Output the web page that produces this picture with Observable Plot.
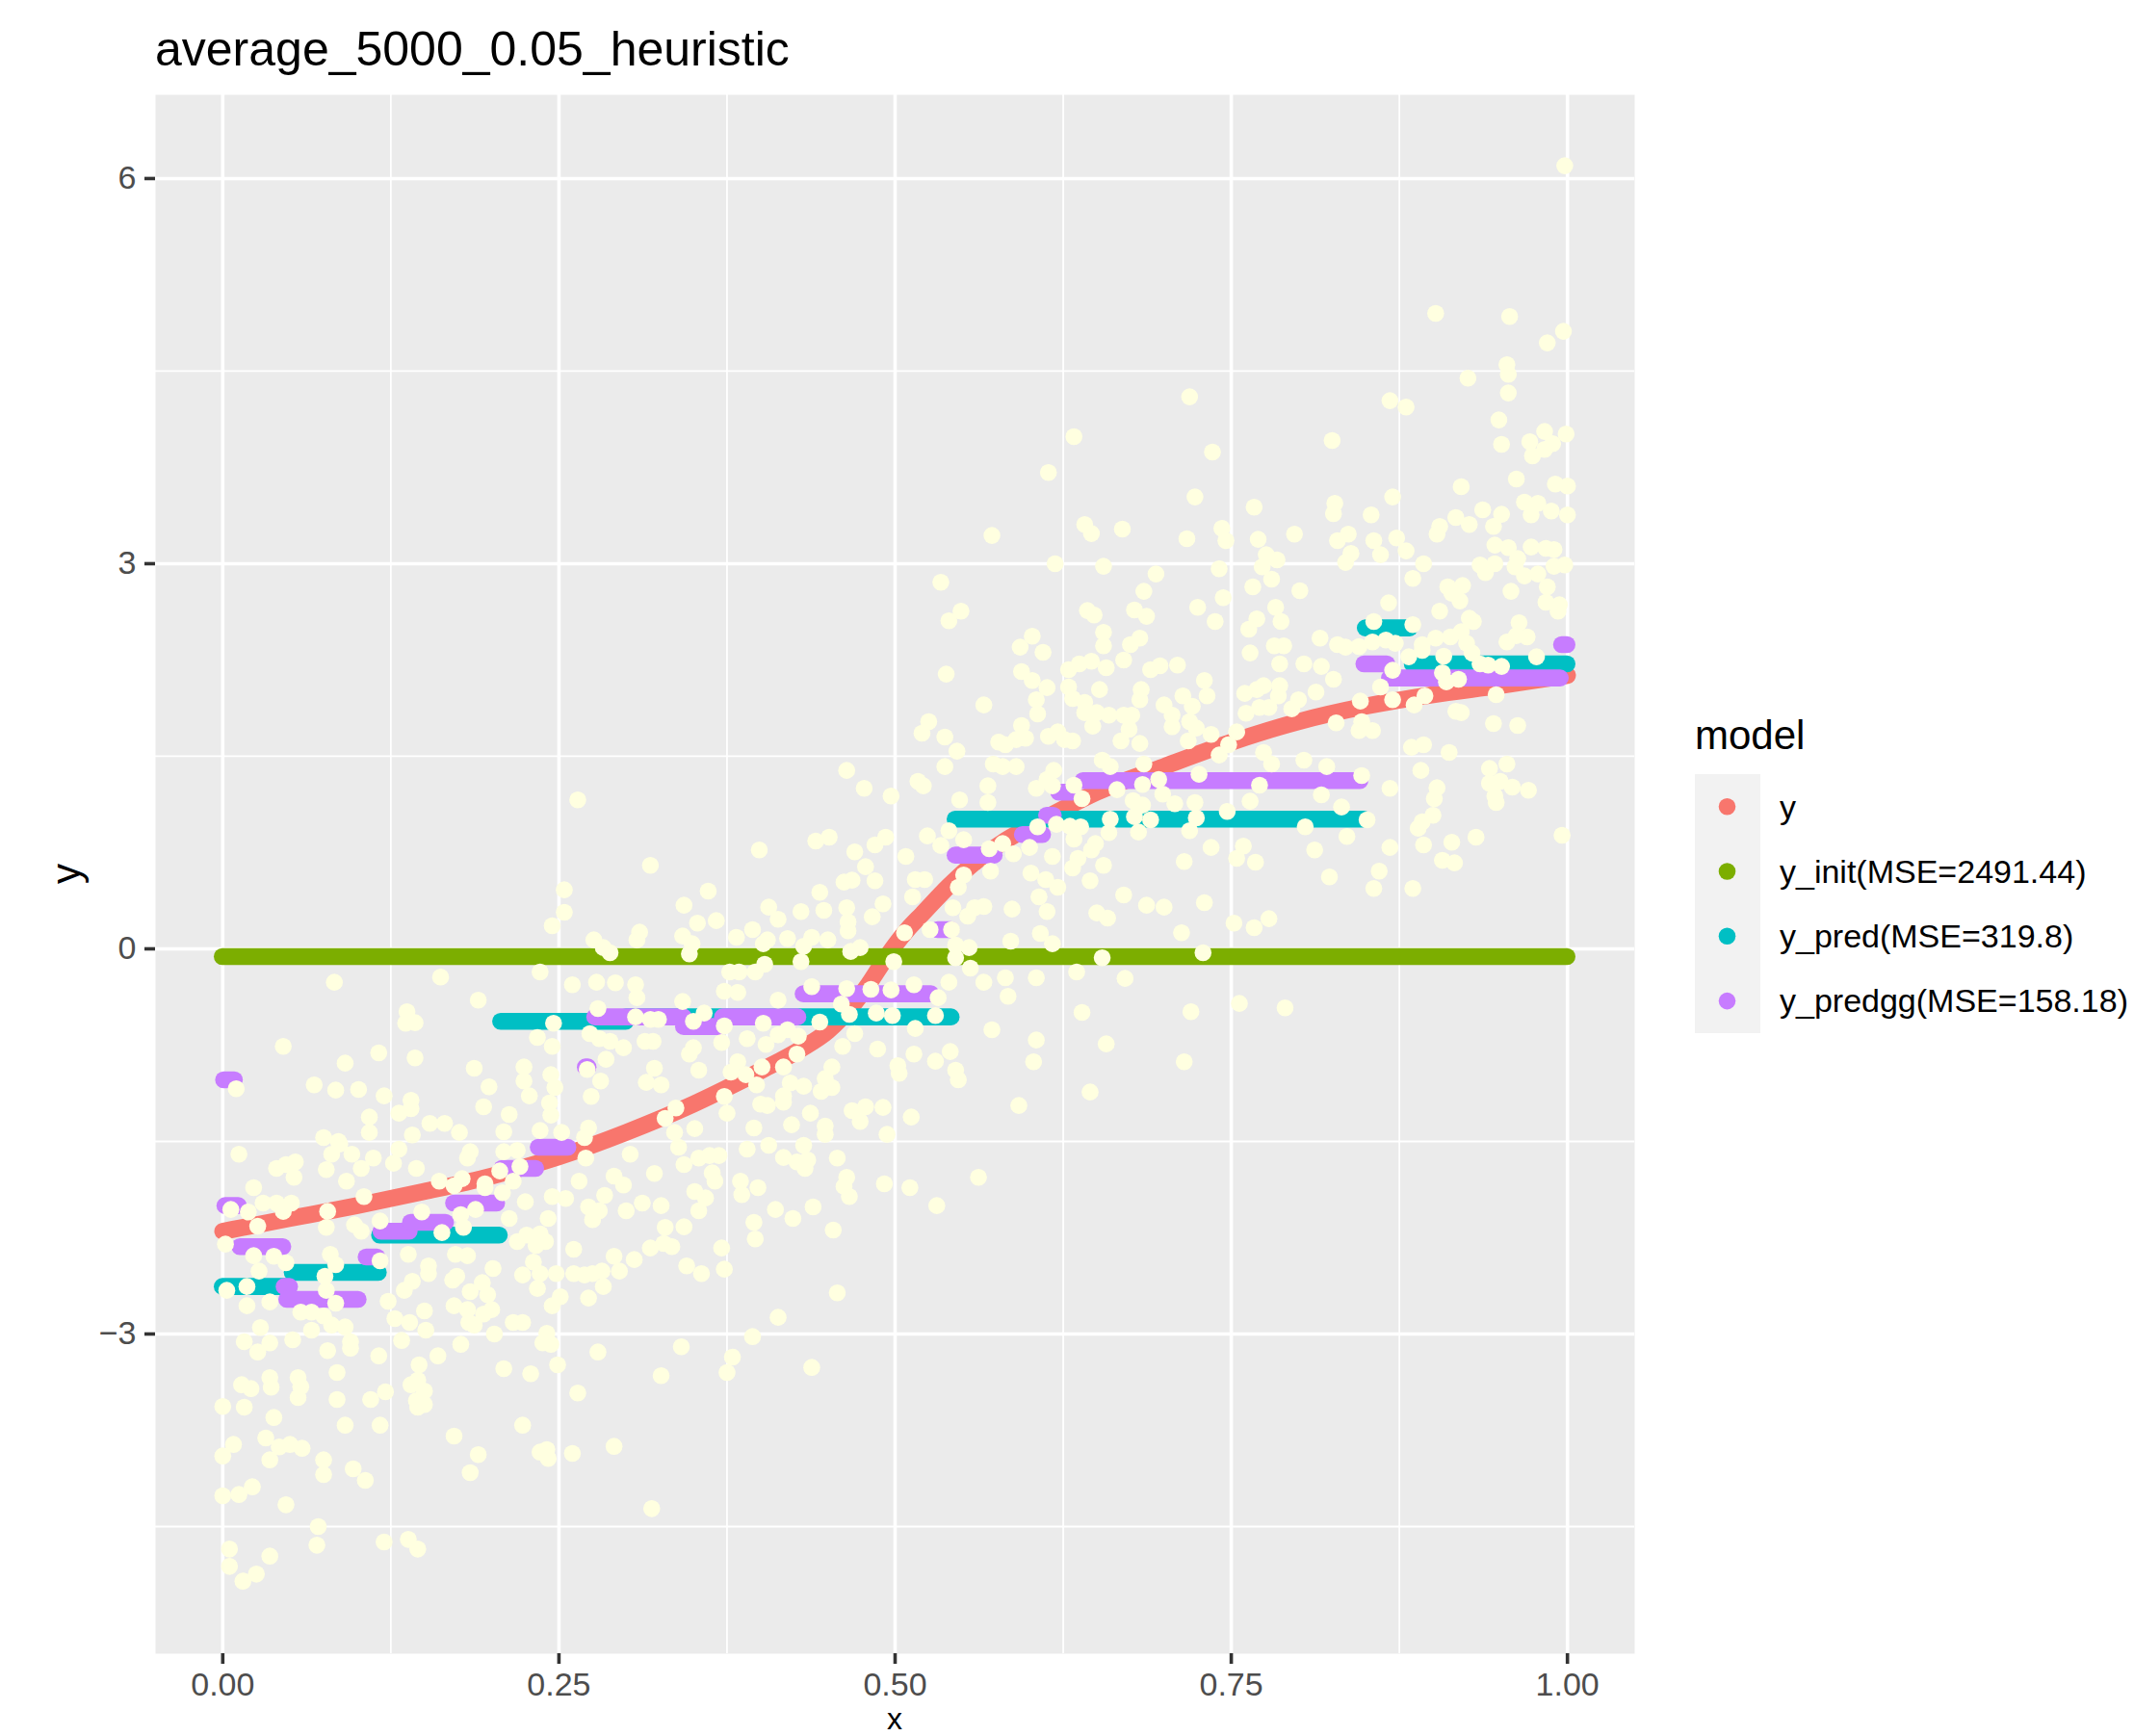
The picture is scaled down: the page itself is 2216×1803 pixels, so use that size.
<!DOCTYPE html>
<html>
<head>
<meta charset="utf-8">
<script src="https://cdn.jsdelivr.net/npm/d3@7"></script>
<script src="https://cdn.jsdelivr.net/npm/@observablehq/plot@0.6"></script>
<style>
  html, body { margin: 0; padding: 0; background: #ffffff; overflow: hidden; }
  #chart { position: absolute; left: 0; top: 0; }
</style>
</head>
<body>
<div id="chart"></div>
<script>
// ---------------- data ----------------
const TITLE = "average_5000_0.05_heuristic";
const legendTitle = "model";
const modelLabels = ["y", "y_init(MSE=2491.44)", "y_pred(MSE=319.8)", "y_predgg(MSE=158.18)"];
const modelColors = ["#F8766D", "#7CAE00", "#00BFC4", "#C77CFF"];
const obsColor = "#FFFFE0";

const xTicks = [0, 0.25, 0.5, 0.75, 1];
const xTickLabels = ["0.00", "0.25", "0.50", "0.75", "1.00"];
const xMinor = [0.125, 0.375, 0.625, 0.875];
const yTicks = [-3, 0, 3, 6];
const yTickLabels = ["\u22123", "0", "3", "6"];
const yMinor = [-4.5, -1.5, 1.5, 4.5];

// true curve "y"
const trueX = [0.00,0.05,0.10,0.15,0.20,0.25,0.30,0.35,0.40,0.43,0.45,0.46,0.47,0.48,0.49,0.50,0.51,0.52,0.54,0.56,0.58,0.60,0.625,0.65,0.70,0.75,0.80,0.85,0.90,0.95,1.00];
const trueY = [-2.20,-2.10,-2.00,-1.89,-1.77,-1.62,-1.43,-1.21,-0.95,-0.78,-0.64,-0.54,-0.42,-0.28,-0.12,0.03,0.16,0.27,0.49,0.68,0.83,0.95,1.09,1.22,1.42,1.61,1.77,1.89,1.98,2.05,2.13];

// step models: [x start, x end, value]
const initSegments = [[0.000, 1.000, -0.06]];
const predSegments = [
  [0.000, 0.048, -2.63], [0.052, 0.116, -2.52], [0.117, 0.206, -2.23],
  [0.207, 0.300, -0.565], [0.300, 0.542, -0.53], [0.545, 0.849, 1.01],
  [0.850, 0.883, 2.50], [0.885, 1.000, 2.22]
];
const predggSegments = [
  [0.001, 0.009, -1.02], [0.002, 0.012, -2.00], [0.013, 0.045, -2.32],
  [0.046, 0.050, -2.63], [0.048, 0.101, -2.73], [0.107, 0.115, -2.40],
  [0.118, 0.139, -2.20], [0.140, 0.166, -2.13], [0.172, 0.204, -1.98],
  [0.208, 0.233, -1.71], [0.235, 0.257, -1.545], [0.270, 0.272, -0.92],
  [0.277, 0.343, -0.53], [0.343, 0.370, -0.605], [0.372, 0.428, -0.53],
  [0.432, 0.527, -0.35], [0.532, 0.542, 0.15], [0.545, 0.574, 0.73],
  [0.595, 0.610, 0.89], [0.613, 0.618, 1.04], [0.622, 0.632, 1.22],
  [0.640, 0.846, 1.31], [0.849, 0.866, 2.22], [0.868, 0.995, 2.11],
  [0.996, 1.000, 2.37]
];

// observed noisy points [x, y]
const observed = [
[0.264,1.16],[0.464,1.39],[0.477,1.25],[0.497,1.19],[0.318,0.65],[0.399,0.77],[0.441,0.84],[0.451,0.87],[0.470,0.755],[0.485,0.81],[0.493,0.87],[0.478,0.64],[0.462,0.52],[0.468,0.535],[0.485,0.53],[0.254,0.46],[0.254,0.285],[0.245,0.18],[0.361,0.45],[0.343,0.34],[0.353,0.20],[0.367,0.22],[0.444,0.44],[0.406,0.325],[0.413,0.23],[0.430,0.29],[0.447,0.30],[0.464,0.32],[0.491,0.35],[0.483,0.25],[0.465,0.21],[0.465,0.14],[0.310,0.13],[0.308,0.07],[0.276,0.07],[0.283,0.01],[0.288,-0.03],[0.342,0.10],[0.349,0.04],[0.347,-0.04],[0.382,0.09],[0.394,0.15],[0.405,0.07],[0.402,0.04],[0.420,0.08],[0.438,0.09],[0.450,0.07],[0.432,0.02],[0.430,-0.10],[0.467,-0.02],[0.474,0.01],[0.499,-0.10],
[0.236,-0.18],[0.083,-0.26],[0.162,-0.22],[0.190,-0.40],[0.137,-0.49],[0.136,-0.58],[0.143,-0.575],[0.045,-0.76],[0.091,-0.89],[0.116,-0.81],[0.143,-0.85],[0.187,-0.93],[0.068,-1.06],[0.084,-1.10],[0.101,-1.095],[0.120,-1.145],[0.010,-1.09],[0.140,-1.18],[0.131,-1.28],[0.140,-1.245],[0.109,-1.31],[0.109,-1.43],[0.075,-1.47],[0.086,-1.50],[0.141,-1.45],[0.154,-1.36],[0.165,-1.36],[0.176,-1.43],[0.194,-1.23],[0.198,-1.075],[0.213,-1.29],[0.209,-1.425],[0.224,-0.92],[0.224,-1.03],[0.228,-1.145],[0.244,-0.98],[0.247,-1.08],[0.243,-1.20],[0.244,-1.295],[0.236,-1.415],[0.252,-1.43],[0.272,-1.395],[0.269,-1.47],[0.234,-0.69],[0.245,-0.76],[0.246,-0.58],[0.260,-0.28],[0.278,-0.26],[0.292,-0.265],[0.307,-0.28],[0.308,-0.38],[0.279,-0.465],[0.273,-0.66],[0.280,-0.70],[0.288,-0.72],[0.298,-0.77],[0.285,-0.86],[0.271,-0.94],[0.281,-1.03],[0.274,-1.15],[0.314,-0.72],[0.320,-0.72],[0.307,-0.53],[0.318,-0.55],[0.324,-0.55],[0.342,-0.41],[0.358,-0.50],[0.350,-0.565],[0.373,-0.60],[0.371,-0.73],[0.350,-0.77],[0.347,-0.82],[0.354,-0.945],[0.321,-0.93],[0.315,-1.04],[0.326,-1.06],[0.337,-1.24],[0.329,-1.32],[0.336,-1.43],[0.351,-1.40],[0.373,-1.15],[0.375,-1.28],[0.378,-0.96],[0.383,-0.88],[0.389,-0.98],[0.397,-1.06],[0.401,-0.92],[0.390,-0.70],[0.404,-0.745],[0.413,-0.67],[0.420,-0.63],[0.428,-0.68],[0.417,-0.92],[0.422,-1.045],[0.432,-1.07],[0.417,-1.145],[0.417,-1.195],[0.400,-1.21],[0.405,-1.22],[0.395,-1.395],[0.423,-1.37],[0.437,-1.28],[0.448,-1.38],[0.448,-1.445],[0.445,-1.11],[0.453,-1.08],[0.453,-0.92],[0.448,-1.01],[0.468,-1.26],[0.478,-1.23],[0.474,-1.345],[0.491,-1.235],[0.494,-1.445],[0.461,-0.76],[0.470,-0.66],[0.487,-0.78],[0.438,-0.295],[0.464,-0.31],[0.482,-0.315],[0.497,-0.32],[0.413,-0.40],[0.444,-0.57],[0.460,-0.43],[0.466,-0.51],[0.486,-0.50],[0.498,-0.52],[0.396,-0.18],[0.403,-0.12],[0.377,-0.18],[0.384,-0.18],[0.373,-0.33],[0.383,-0.34],[0.402,-0.58],[0.427,-0.82],
[0.012,-1.60],[0.040,-1.71],[0.047,-1.68],[0.054,-1.66],[0.053,-1.78],[0.023,-1.86],[0.006,-2.03],[0.019,-2.05],[0.030,-1.98],[0.040,-1.98],[0.051,-1.98],[0.045,-2.045],[0.026,-2.16],[0.002,-2.30],[0.023,-2.39],[0.038,-2.395],[0.047,-2.445],[0.027,-2.51],[0.018,-2.63],[0.003,-2.66],[0.018,-2.78],[0.035,-2.75],[0.028,-2.95],[0.016,-3.06],[0.035,-3.07],[0.026,-3.14],[0.052,-3.045],[0.066,-2.97],[0.058,-2.83],[0.066,-2.83],[0.075,-2.86],[0.081,-2.93],[0.091,-2.945],[0.095,-3.06],[0.095,-3.11],[0.078,-3.13],[0.084,-2.76],[0.076,-2.55],[0.077,-2.66],[0.084,-2.46],[0.080,-2.38],[0.077,-1.72],[0.081,-1.60],[0.087,-1.52],[0.096,-1.60],[0.103,-1.71],[0.112,-1.63],[0.092,-1.81],[0.105,-1.93],[0.078,-2.045],[0.077,-2.17],[0.098,-2.15],[0.103,-2.20],[0.117,-2.12],[0.117,-2.43],[0.127,-1.67],[0.131,-1.56],[0.144,-1.71],
[0.182,-1.63],[0.184,-1.58],[0.161,-1.81],[0.172,-1.845],[0.178,-1.79],[0.195,-1.83],[0.208,-1.90],[0.195,-1.86],[0.148,-2.05],[0.163,-2.21],[0.177,-2.07],[0.179,-2.17],[0.188,-2.03],[0.206,-1.73],[0.221,-1.695],[0.216,-1.81],[0.209,-1.58],[0.219,-1.57],[0.225,-1.97],[0.213,-2.10],[0.123,-2.745],[0.138,-2.38],[0.153,-2.47],[0.153,-2.53],[0.141,-2.59],[0.135,-2.66],[0.171,-2.58],[0.174,-2.55],[0.173,-2.38],[0.182,-2.39],[0.201,-2.49],[0.193,-2.60],[0.184,-2.67],[0.197,-2.695],[0.172,-2.78],[0.182,-2.81],[0.200,-2.81],[0.194,-2.845],[0.183,-2.91],[0.187,-2.93],[0.150,-2.82],[0.128,-2.88],[0.139,-2.91],[0.151,-2.97],[0.133,-3.05],[0.160,-3.17],[0.177,-3.08],[0.202,-3.00],[0.216,-2.91],[0.223,-2.91],[0.223,-2.54],[0.234,-2.645],[0.231,-2.44],[0.236,-2.53],[0.219,-2.28],[0.226,-2.23],[0.236,-2.22],[0.233,-2.31],[0.240,-2.28],[0.242,-2.10],[0.245,-1.93],[0.255,-1.945],[0.265,-1.81],[0.270,-1.63],[0.248,-2.53],[0.251,-2.71],[0.245,-2.78],[0.272,-2.72],[0.241,-2.995],[0.238,-3.07],[0.244,-3.08],[0.261,-2.34],[0.261,-2.53],[0.269,-2.54],[0.275,-2.53],[0.282,-2.51],[0.283,-2.63],[0.272,-2.01],[0.275,-2.11],[0.280,-2.04],[0.284,-1.92],[0.291,-1.77],[0.298,-1.84],[0.303,-1.60],[0.300,-2.04],[0.312,-1.98],[0.321,-1.75],[0.326,-2.00],[0.291,-2.395],[0.295,-2.51],[0.306,-2.42],[0.318,-2.33],[0.328,-2.295],[0.334,-2.32],[0.329,-2.17],[0.343,-2.165],[0.345,-2.47],[0.356,-2.53],[0.373,-2.495],[0.371,-2.33],[0.354,-2.04],[0.351,-1.89],[0.359,-1.94],[0.364,-1.745],[0.366,-1.81],[0.343,-1.68],[0.354,-1.63],[0.362,-1.61],[0.369,-1.61],[0.339,-1.545],[0.385,-1.81],[0.386,-1.915],[0.398,-1.86],[0.390,-1.56],[0.406,-1.53],[0.417,-1.625],[0.427,-1.66],[0.432,-1.53],[0.435,-1.645],[0.433,-1.71],[0.457,-1.63],[0.464,-1.78],[0.462,-1.85],[0.466,-1.93],[0.492,-1.83],[0.411,-2.03],[0.424,-2.10],[0.439,-2.01],[0.395,-2.13],[0.396,-2.26],[0.454,-2.19],[0.413,-2.87],[0.394,-3.02],[0.379,-3.18],[0.375,-3.30],[0.438,-3.26],[0.341,-3.10],[0.326,-3.325],[0.457,-2.68],[0.279,-3.14],[0.249,-3.24],[0.229,-3.31],[0.209,-3.27],[0.264,-3.46],[0.223,-3.71],[0.172,-3.795],[0.190,-3.94],[0.184,-4.08],[0.236,-3.92],[0.241,-3.90],[0.242,-3.97],[0.260,-3.93],[0.291,-3.875],[0.319,-4.36],[0.121,-3.45],[0.110,-3.51],[0.085,-3.30],[0.085,-3.51],[0.091,-3.71],[0.117,-3.71],[0.116,-3.17],[0.056,-3.34],[0.058,-3.41],[0.056,-3.495],[0.035,-3.34],[0.036,-3.415],[0.014,-3.395],[0.021,-3.425],[0.000,-3.565],[0.016,-3.57],[0.038,-3.65],[0.032,-3.81],[0.008,-3.86],[0.000,-3.95],[0.042,-3.88],[0.050,-3.86],[0.059,-3.89],[0.035,-3.98],[0.075,-3.98],[0.075,-4.095],[0.097,-4.05],[0.106,-4.14],[0.022,-4.19],[0.012,-4.25],[0.000,-4.26],[0.047,-4.33],[0.071,-4.50],[0.070,-4.645],[0.120,-4.62],[0.138,-4.60],[0.145,-4.675],[0.005,-4.675],[0.005,-4.81],[0.035,-4.73],[0.025,-4.87],[0.015,-4.925],[0.146,-3.24],[0.145,-3.36],[0.140,-3.395],[0.150,-3.445],[0.144,-3.52],[0.150,-3.55],[0.145,-3.57],
[0.998,6.10],[0.902,4.95],[0.957,4.925],[0.997,4.81],[0.985,4.72],[0.955,4.55],[0.956,4.475],[0.926,4.445],[0.956,4.33],[0.719,4.30],[0.868,4.27],[0.880,4.22],[0.949,4.12],[0.983,4.03],[0.999,4.01],[0.972,3.95],[0.989,3.935],[0.951,3.93],[0.983,3.89],[0.974,3.84],[0.633,3.99],[0.736,3.87],[0.825,3.96],
[0.614,3.71],[0.921,3.60],[0.962,3.66],[0.991,3.62],[1.000,3.605],[0.723,3.52],[0.767,3.44],[0.870,3.52],[0.827,3.47],[0.826,3.39],[0.854,3.38],[0.968,3.48],[0.978,3.47],[0.973,3.38],[0.988,3.41],[1.000,3.38],[0.917,3.36],[0.927,3.305],[0.937,3.42],[0.951,3.385],[0.945,3.29],[0.905,3.29],[0.903,3.23],[0.572,3.22],[0.641,3.305],[0.646,3.235],[0.669,3.27],[0.717,3.195],[0.743,3.275],[0.746,3.18],[0.770,3.19],[0.797,3.23],[0.837,3.23],[0.829,3.18],[0.856,3.18],[0.873,3.20],[0.880,3.10],[0.861,3.07],[0.839,3.08],[0.835,3.01],[0.776,3.07],[0.784,3.03],[0.893,3.00],[0.946,3.145],[0.956,3.125],[0.973,3.13],[0.984,3.12],[0.990,3.11],[0.963,3.04],[0.935,2.99],[0.946,3.00],[0.939,2.93],[0.961,2.975],[0.968,2.905],[0.978,2.92],[0.990,2.98],[0.998,2.99],[0.985,2.82],[0.958,2.785],[0.619,3.00],[0.655,2.98],[0.741,2.96],[0.773,2.975],[0.534,2.855],[0.694,2.92],[0.685,2.785],[0.766,2.82],[0.780,2.88],[0.801,2.79],[0.885,2.885],[0.911,2.82],[0.922,2.83],[0.914,2.77],[0.920,2.71],[0.867,2.695],[0.905,2.63],[0.984,2.70],[0.994,2.68],[0.993,2.63],[0.549,2.63],[0.540,2.555],[0.643,2.635],[0.648,2.60],[0.678,2.64],[0.687,2.59],[0.725,2.66],[0.744,2.735],[0.738,2.55],[0.783,2.66],[0.769,2.57],[0.787,2.55],[0.856,2.55],[0.885,2.525],[0.927,2.575],[0.930,2.55],[0.964,2.54],[0.955,2.39],[0.970,2.43],[0.962,2.44],[0.602,2.435],[0.593,2.35],[0.610,2.31],[0.655,2.465],[0.655,2.36],[0.682,2.42],[0.675,2.37],[0.670,2.25],[0.763,2.49],[0.764,2.305],[0.782,2.36],[0.789,2.36],[0.816,2.42],[0.829,2.37],[0.835,2.35],[0.845,2.355],[0.855,2.39],[0.865,2.405],[0.872,2.38],[0.892,2.37],[0.902,2.42],[0.913,2.43],[0.921,2.47],[0.925,2.38],[0.929,2.305],[0.882,2.275],[0.892,2.325],[0.908,2.28],[0.935,2.22],[0.941,2.21],[0.951,2.20],[0.977,2.275],[0.907,2.15],[0.910,2.08],[0.919,2.10],[0.870,2.17],[0.861,2.04],[0.870,1.94],[0.846,1.93],[0.886,1.90],[0.894,1.97],[0.947,1.98],[0.917,1.85],[0.921,1.84],[0.945,1.755],[0.963,1.74],[0.847,1.77],[0.845,1.70],[0.855,1.70],[0.828,1.76],[0.884,1.57],[0.893,1.59],[0.912,1.53],[0.942,1.405],[0.955,1.44],[0.594,2.16],[0.602,2.09],[0.613,2.035],[0.605,1.94],[0.606,1.83],[0.594,1.74],[0.629,2.175],[0.637,2.22],[0.646,2.24],[0.657,2.19],[0.690,2.175],[0.697,2.205],[0.710,2.21],[0.629,2.04],[0.652,2.02],[0.632,1.95],[0.641,1.92],[0.641,1.84],[0.650,1.84],[0.659,1.82],[0.647,1.735],[0.670,1.82],[0.676,1.82],[0.683,2.02],[0.682,1.94],[0.674,1.71],[0.668,1.62],[0.682,1.60],[0.700,1.90],[0.706,1.82],[0.706,1.73],[0.714,1.97],[0.721,1.89],[0.719,1.77],[0.724,1.72],[0.718,1.62],[0.730,2.09],[0.732,1.97],[0.735,1.67],[0.754,1.69],[0.761,1.835],[0.760,1.99],[0.769,2.02],[0.774,2.05],[0.786,2.05],[0.785,1.97],[0.771,1.88],[0.778,1.88],[0.786,2.22],[0.804,2.22],[0.817,2.20],[0.826,2.10],[0.800,1.94],[0.795,1.87],[0.813,2.00],[0.566,1.90],[0.538,2.14],[0.520,1.68],[0.525,1.77],[0.537,1.65],[0.546,1.54],[0.577,1.61],[0.582,1.59],[0.590,1.63],[0.597,1.64],[0.614,1.655],[0.621,1.69],[0.626,1.63],[0.632,1.62],[0.573,1.44],[0.537,1.42],[0.580,1.42],[0.590,1.42],[0.618,1.39],[0.654,1.47],[0.685,1.44],[0.741,1.51],[0.748,1.59],[0.774,1.53],[0.780,1.44],[0.804,1.47],[0.821,1.42],[0.891,1.39],
[0.517,1.305],[0.521,1.27],[0.548,1.16],[0.569,1.27],[0.569,1.14],[0.613,1.32],[0.617,1.27],[0.605,1.25],[0.633,1.275],[0.639,1.17],[0.660,1.42],[0.665,1.24],[0.684,1.28],[0.696,1.32],[0.699,1.205],[0.708,1.13],[0.726,1.36],[0.723,1.14],[0.724,1.02],[0.719,0.92],[0.677,1.155],[0.684,1.12],[0.678,1.03],[0.690,1.005],[0.681,0.91],[0.660,1.01],[0.659,0.905],[0.638,0.95],[0.630,0.955],[0.620,0.97],[0.606,0.95],[0.633,0.855],[0.649,0.82],[0.646,0.77],[0.636,0.705],[0.632,0.63],[0.617,0.72],[0.655,0.65],[0.645,0.53],[0.621,0.48],[0.612,0.54],[0.601,0.59],[0.607,0.405],[0.613,0.29],[0.587,0.31],[0.588,0.74],[0.600,0.79],[0.580,0.82],[0.570,0.78],[0.571,0.605],[0.551,0.575],[0.547,0.48],[0.554,0.255],[0.566,0.33],[0.543,0.32],[0.559,0.32],[0.508,0.72],[0.515,0.54],[0.522,0.54],[0.513,0.405],[0.540,0.92],[0.524,0.88],[0.534,0.805],[0.551,0.85],[0.542,0.15],[0.526,0.15],[0.507,0.125],[0.545,0.03],[0.555,0.01],[0.545,-0.07],[0.556,-0.15],[0.566,-0.26],[0.582,-0.225],[0.584,-0.37],[0.605,-0.225],[0.586,0.06],[0.608,0.12],[0.617,0.04],[0.635,-0.18],[0.654,-0.07],[0.671,-0.23],[0.729,-0.03],[0.639,-0.495],[0.720,-0.49],[0.756,-0.425],[0.790,-0.46],[0.687,0.34],[0.700,0.325],[0.670,0.42],[0.650,0.28],[0.658,0.24],[0.713,0.125],[0.730,0.36],[0.752,0.20],[0.767,0.165],[0.778,0.235],[0.715,0.68],[0.735,0.79],[0.754,0.705],[0.759,0.80],[0.768,0.675],[0.747,1.07],[0.764,1.15],[0.771,1.275],[0.817,1.20],[0.847,1.35],[0.832,1.105],[0.805,0.95],[0.836,0.875],[0.812,0.77],[0.823,0.56],[0.851,1.005],[0.868,1.25],[0.868,0.79],[0.860,0.605],[0.856,0.47],[0.885,0.47],[0.903,1.255],[0.901,1.17],[0.900,1.04],[0.892,0.99],[0.889,0.94],[0.893,0.81],[0.914,0.83],[0.907,0.69],[0.916,0.67],[0.932,0.87],[0.942,1.29],[0.950,1.305],[0.959,1.26],[0.971,1.235],[0.946,1.19],[0.947,1.14],[0.996,0.885],[0.514,-0.82],[0.530,-0.875],[0.541,-0.80],[0.502,-0.91],[0.503,-0.97],[0.545,-0.945],[0.547,-1.02],[0.515,-0.62],[0.572,-0.63],[0.605,-0.71],[0.603,-0.88],[0.657,-0.74],[0.715,-0.88],[0.645,-1.115],[0.592,-1.22],[0.512,-1.31],[0.562,-1.78],[0.511,-1.86],[0.531,-2.00],[0.514,-0.28],[0.540,-0.26],[0.532,-0.38],[0.530,-0.52]
];

// ---------------- chart ----------------
const W = 2216, H = 1803;
const FONT = "'Liberation Sans', Arial, Helvetica, sans-serif";
const curve = trueX.map((x, i) => ({x, y: trueY[i]}));
const PT = 17.6; // point diameter

const segRule = (segs, color) => Plot.ruleY(segs, {
  y: d => d[2], x1: d => d[0], x2: d => d[1],
  stroke: color, strokeWidth: PT, strokeLinecap: "round"
});

const chart = Plot.plot({
  width: W, height: H,
  marginLeft: 161, marginRight: W - 1697, marginTop: 98, marginBottom: H - 1717,
  style: {fontFamily: FONT, fontSize: "34px", background: "#ffffff"},
  x: {domain: [-0.05, 1.05]},
  y: {domain: [-5.49, 6.652]},
  marks: [
    Plot.frame({fill: "#EBEBEB", stroke: null}),
    Plot.gridX({ticks: xMinor, stroke: "#ffffff", strokeOpacity: 1, strokeWidth: 1.8}),
    Plot.gridY({ticks: yMinor, stroke: "#ffffff", strokeOpacity: 1, strokeWidth: 1.8}),
    Plot.gridX({ticks: xTicks, stroke: "#ffffff", strokeOpacity: 1, strokeWidth: 3.6}),
    Plot.gridY({ticks: yTicks, stroke: "#ffffff", strokeOpacity: 1, strokeWidth: 3.6}),
    Plot.line(curve, {x: "x", y: "y", stroke: modelColors[0], strokeWidth: PT, strokeLinecap: "round", strokeLinejoin: "round", curve: "monotone-x"}),
    segRule(initSegments, modelColors[1]),
    segRule(predSegments, modelColors[2]),
    segRule(predggSegments, modelColors[3]),
    Plot.dot(observed, {x: d => d[0], y: d => d[1], r: PT / 2, fill: obsColor, stroke: null}),
    Plot.axisX({ticks: xTicks, tickFormat: d => xTickLabels[xTicks.indexOf(d)], tickSize: 11, tickPadding: 8,
      stroke: "#333333", strokeWidth: 3.6, fill: "#4D4D4D", label: null}),
    Plot.axisY({ticks: yTicks, tickFormat: d => yTickLabels[yTicks.indexOf(d)], tickSize: 11, tickPadding: 9,
      stroke: "#333333", strokeWidth: 3.6, fill: "#4D4D4D", label: null})
  ]
});
document.getElementById("chart").appendChild(chart);

// titles and legend
const svg = d3.select(chart);
svg.append("text").attr("x", 161).attr("y", 68).attr("text-anchor", "start").attr("font-family", FONT)
  .attr("font-size", 50).attr("fill", "#000").text(TITLE);
svg.append("text").attr("x", 929).attr("y", 1796).attr("text-anchor", "middle").attr("font-family", FONT)
  .attr("font-size", 32).attr("fill", "#000").text("x");
svg.append("text").attr("transform", "translate(83,907.5) rotate(-90)").attr("text-anchor", "middle")
  .attr("font-family", FONT).attr("font-size", 42).attr("fill", "#000").text("y");

const lg = svg.append("g").attr("text-anchor", "start");
lg.append("text").attr("x", 1760).attr("y", 778).attr("text-anchor", "start").attr("font-family", FONT)
  .attr("font-size", 42).attr("fill", "#000").text(legendTitle);
lg.append("rect").attr("x", 1760).attr("y", 804).attr("width", 68).attr("height", 269).attr("fill", "#F2F2F2");
modelLabels.forEach((lab, i) => {
  const cy = 837.7 + 67.3 * i;
  lg.append("circle").attr("cx", 1793.5).attr("cy", cy).attr("r", PT / 2).attr("fill", modelColors[i]);
  lg.append("text").attr("x", 1848).attr("y", cy + 11.8).attr("text-anchor", "start").attr("font-family", FONT)
    .attr("font-size", 34).attr("fill", "#000").text(lab);
});
</script>
</body>
</html>
